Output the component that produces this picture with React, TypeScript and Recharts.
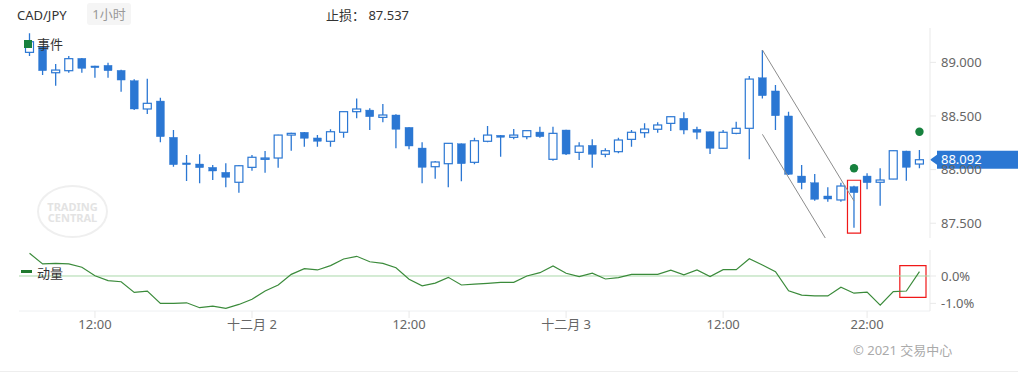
import { ComposedChart, Bar, Line, XAxis, YAxis, ReferenceLine, ReferenceArea, ReferenceDot } from "recharts"

const BLUE = "#2b77d3"
const GREEN = "#17813e"

// CAD/JPY 1h candles, Dec 1 07:00 -> Dec 3 23:00
const opens = [
  89.093, 89.145, 88.903, 88.922, 89.037, 88.966, 88.972, 88.925, 88.829, 88.565,
  88.639, 88.301, 88.062, 88.052, 88.021, 87.975, 87.882, 88.021, 88.096, 88.108,
  88.322, 88.348, 88.295, 88.264, 88.348, 88.54, 88.555, 88.487, 88.509, 88.394,
  88.201, 88.027, 88.055, 88.241, 88.068, 88.264, 88.32, 88.301, 88.307, 88.35,
  88.096, 88.369, 88.161, 88.226, 88.143, 88.167, 88.282, 88.344, 88.376, 88.431,
  88.478, 88.376, 88.353, 88.199, 88.338, 88.385, 88.856, 88.733, 88.5, 87.94,
  87.878, 87.754, 87.717, 87.841, 87.94, 87.882, 87.912, 88.173, 88.052,
]
const highs = [
  89.27, 89.15, 88.984, 89.059, 89.04, 88.968, 88.996, 88.93, 88.842, 88.847,
  88.67, 88.369, 88.136, 88.143, 88.043, 88.059, 88.043, 88.136, 88.173, 88.325,
  88.344, 88.35, 88.322, 88.376, 88.542, 88.664, 88.571, 88.611, 88.515, 88.396,
  88.254, 88.08, 88.247, 88.243, 88.297, 88.406, 88.322, 88.378, 88.365, 88.4,
  88.4, 88.371, 88.254, 88.282, 88.199, 88.297, 88.369, 88.431, 88.441, 88.495,
  88.534, 88.4, 88.355, 88.369, 88.446, 88.872, 89.115, 88.788, 88.54, 88.043,
  87.959, 87.835, 87.878, 87.85, 87.966, 88.012, 88.178, 88.175, 88.183,
]
const lows = [
  89.059, 88.882, 88.782, 88.903, 88.903, 88.856, 88.856, 88.726, 88.555, 88.518,
  88.254, 88.027, 87.894, 87.872, 87.903, 87.835, 87.785, 87.99, 87.971, 88.018,
  88.176, 88.213, 88.213, 88.213, 88.297, 88.478, 88.369, 88.441, 88.199, 88.189,
  87.872, 87.915, 87.835, 87.891, 88.049, 88.254, 88.12, 88.282, 88.282, 88.297,
  88.083, 88.136, 88.09, 88.018, 88.115, 88.152, 88.213, 88.297, 88.344, 88.36,
  88.329, 88.282, 88.145, 88.197, 88.329, 88.096, 88.664, 88.369, 87.95, 87.816,
  87.71, 87.701, 87.701, 87.459, 87.816, 87.664, 87.91, 87.897, 88.012,
]
const closes = [
  89.192, 88.922, 88.928, 89.034, 88.944, 88.95, 88.922, 88.835, 88.565, 88.618,
  88.307, 88.046, 88.046, 88.018, 87.987, 87.928, 88.036, 88.115, 88.108, 88.322,
  88.338, 88.292, 88.264, 88.353, 88.54, 88.565, 88.493, 88.509, 88.376, 88.22,
  88.021, 88.071, 88.245, 88.055, 88.269, 88.322, 88.301, 88.322, 88.363, 88.307,
  88.338, 88.145, 88.22, 88.143, 88.176, 88.276, 88.348, 88.378, 88.416, 88.493,
  88.369, 88.348, 88.199, 88.348, 88.385, 88.844, 88.689, 88.502, 87.956, 87.878,
  87.723, 87.726, 87.847, 87.785, 87.878, 87.903, 88.176, 88.021, 88.092,
]
// momentum, %
const momentum = [
  0.83, 0.44, 0.46, 0.44, 0.32, 0.01, -0.17, -0.21, -0.6, -0.55,
  -1.0, -1.0, -0.98, -1.16, -1.1, -1.18, -1.04, -0.85, -0.55, -0.33,
  0.06, 0.27, 0.22, 0.38, 0.62, 0.72, 0.52, 0.46, 0.3, -0.12,
  -0.36, -0.26, -0.05, -0.33, -0.3, -0.27, -0.23, -0.23, 0.0, 0.12,
  0.37, 0.1, -0.02, 0.1, -0.11, -0.06, 0.06, 0.06, 0.06, 0.21,
  0.04, 0.22, -0.02, 0.23, 0.23, 0.63, 0.4, 0.16, -0.54, -0.7,
  -0.73, -0.73, -0.41, -0.63, -0.59, -1.07, -0.57, -0.55, 0.16,
]

const tickIdx = [5, 17, 29, 41, 53, 64]
const tickText = ["12:00", "十二月 2", "12:00", "十二月 3", "12:00", "22:00"]
const priceTicks = [87.5, 88, 88.5, 89]
const momTicks = [0, -1]
const signalIdx = [63, 68]
const signalPrice = [88.012, 88.353]
const lastPrice = 88.092
const stopLoss = "87.537"

const rows = opens.map((o, i) => ({ i, open: o, high: highs[i], low: lows[i], close: closes[i] }))
const momRows = momentum.map((m, i) => ({ i, m }))

const fmtX = (v: number) => tickText[tickIdx.indexOf(v)] ?? ""

function Candle(props: any) {
  const { x, y, width, height, payload } = props
  const top = Math.min(y, y + height)
  const h = Math.abs(height)
  const k = h / (payload.high - payload.low)
  const cx = x + width / 2
  const yOf = (v: number) => top + (payload.high - v) * k
  const up = payload.close >= payload.open
  const bTop = yOf(Math.max(payload.open, payload.close))
  const bBot = yOf(Math.min(payload.open, payload.close))
  return (
    <g>
      <line x1={cx} x2={cx} y1={top} y2={top + h} stroke={BLUE} strokeWidth={1.3} />
      <rect
        x={cx - 4}
        y={bTop}
        width={8}
        height={Math.max(bBot - bTop, 1.2)}
        fill={up ? "#fff" : BLUE}
        stroke={BLUE}
        strokeWidth={up ? 1.2 : 0.4}
      />
    </g>
  )
}

function PriceTag(props: any) {
  const { viewBox } = props
  if (!viewBox) return null
  const x0 = viewBox.x + viewBox.width
  const y0 = viewBox.y
  return (
    <g>
      <polygon points={`${x0},${y0} ${x0 + 7},${y0 - 5} ${x0 + 7},${y0 + 5}`} fill={BLUE} />
      <rect x={x0 + 7} y={y0 - 9} width={90} height={18} fill={BLUE} />
      <text x={x0 + 11} y={y0} dy="0.35em" fill="#fff" fontSize={13}>
        {lastPrice.toFixed(3)}
      </text>
    </g>
  )
}

const axisTick = { fill: "#666", fontSize: 13 }

export default function App() {
  return (
    <div
      style={{
        position: "absolute",
        left: 0,
        top: 0,
        width: 1018,
        height: 373,
        background: "#fff",
        fontFamily: "'Noto Sans', 'Noto Sans CJK SC', sans-serif",
        overflow: "hidden",
      }}
    >
      <div style={{ position: "absolute", left: 37, top: 185, width: 67, height: 49, border: "2px solid #efefef", borderRadius: "50%", display: "flex", flexDirection: "column", alignItems: "center", justifyContent: "center", color: "#e3e3e3", fontWeight: 700, fontSize: 11, lineHeight: "11px" }}>
        <span>TRADING</span>
        <span>CENTRAL</span>
      </div>

      <div style={{ position: "absolute", left: 0, top: 0 }}>
        <ComposedChart width={1018} height={245} data={rows} margin={{ top: 28, right: 0, bottom: 7, left: 19 }}>
          <XAxis dataKey="i" type="category" scale="band" hide padding={{ left: 4, right: 4 }} />
          <YAxis
            orientation="right"
            width={88}
            domain={[87.3625, 89.32]}
            allowDataOverflow
            ticks={priceTicks}
            tickFormatter={(v: number) => v.toFixed(3)}
            axisLine={{ stroke: "#e9e9e9" }}
            tickLine={{ stroke: "#e9e9e9" }}
            tickSize={6}
            tickMargin={5}
            tick={axisTick}
          />
          <Bar dataKey={(d: any) => [d.low, d.high]} barSize={9} shape={<Candle />} isAnimationActive={false} />
          <ReferenceLine
            segment={[{ x: 56, y: 89.115 }, { x: 63, y: 87.707 }]}
            stroke="#8c8c8c"
            ifOverflow="hidden"
          />
          <ReferenceLine
            segment={[{ x: 56, y: 88.329 }, { x: 61, y: 87.323 }]}
            stroke="#8c8c8c"
            ifOverflow="hidden"
          />
          <ReferenceArea x1={63} x2={63} y1={87.408} y2={87.901} fill="none" stroke="#f01818" strokeWidth={1.2} ifOverflow="visible" />
          {signalIdx.map((s, k) => (
            <ReferenceDot key={s} x={s} y={signalPrice[k]} r={4.2} fill={GREEN} stroke="none" />
          ))}
          <ReferenceLine y={lastPrice} stroke="none" label={<PriceTag />} />
        </ComposedChart>
      </div>

      <div style={{ position: "absolute", left: 0, top: 240 }}>
        <ComposedChart width={1018} height={105} data={momRows} margin={{ top: 10, right: 0, bottom: 4, left: 19 }}>
          <XAxis
            dataKey="i"
            type="category"
            scale="band"
            padding={{ left: 4, right: 4 }}
            ticks={tickIdx}
            tickFormatter={fmtX}
            interval={0}
            height={30}
            axisLine={{ stroke: "#eef0f2" }}
            tickLine={{ stroke: "#e9e9e9" }}
            tickSize={7}
            tickMargin={2}
            tick={axisTick}
          />
          <YAxis
            orientation="right"
            width={88}
            domain={[-1.28, 0.95]}
            allowDataOverflow
            ticks={momTicks}
            tickFormatter={(v: number) => v.toFixed(1) + "%"}
            axisLine={{ stroke: "#e9e9e9" }}
            tickLine={{ stroke: "#e9e9e9" }}
            tickSize={6}
            tickMargin={5}
            tick={axisTick}
          />
          <ReferenceLine y={0} stroke="#a9d8a9" />
          <Line dataKey="m" stroke="#3b8b3b" strokeWidth={1.2} dot={false} isAnimationActive={false} />
          <ReferenceArea x1={67} x2={68} y1={-0.78} y2={0.38} fill="none" stroke="#f01818" strokeWidth={1.2} ifOverflow="visible" />
        </ComposedChart>
      </div>

      <div style={{ position: "absolute", left: 17, top: 5, lineHeight: "20px", fontSize: 13, color: "#333" }}>CAD/JPY</div>
      <div style={{ position: "absolute", left: 87, top: 3, width: 44, height: 22, lineHeight: "22px", textAlign: "center", fontSize: 13, color: "#999", background: "#f5f5f5", borderRadius: 3 }}>1小时</div>
      <div style={{ position: "absolute", left: 326, top: 5, lineHeight: "20px", fontSize: 13, color: "#333", whiteSpace: "pre" }}>{"止损： " + stopLoss}</div>

      <div style={{ position: "absolute", left: 24, top: 40, width: 8, height: 8, background: GREEN }} />
      <div style={{ position: "absolute", left: 37, top: 34, lineHeight: "20px", fontSize: 13, color: "#333" }}>事件</div>
      <div style={{ position: "absolute", left: 21, top: 270, width: 11, height: 2.5, background: "#1f7a2e" }} />
      <div style={{ position: "absolute", left: 37, top: 263, lineHeight: "20px", fontSize: 13, color: "#333" }}>动量</div>

      <div style={{ position: "absolute", left: 853, top: 340, lineHeight: "20px", fontSize: 13, color: "#aaa" }}>© 2021 交易中心</div>
      <div style={{ position: "absolute", left: 0, top: 371, width: 1018, height: 1, background: "#eeeeee" }} />
    </div>
  )
}
